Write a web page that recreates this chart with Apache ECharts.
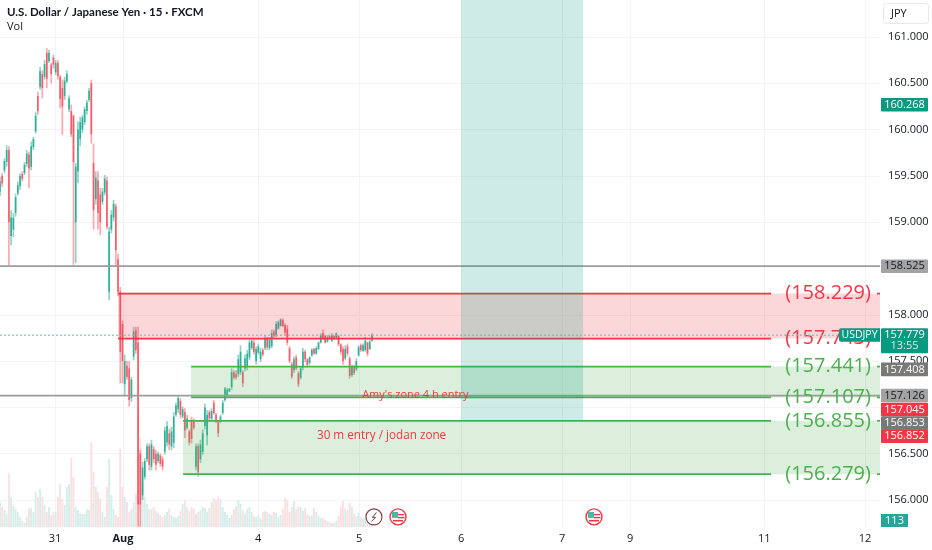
<!DOCTYPE html>
<html><head><meta charset="utf-8">
<style>html,body{margin:0;padding:0;background:#fff}#c{width:932px;height:550px}</style>
<script src="https://cdn.jsdelivr.net/npm/echarts@6/dist/echarts.min.js"></script>
</head><body><div id="c"></div>
<script>
// one row per bar: open, high, low, close
const candles = [
[159.33,159.49,159.28,159.44],[159.50,159.53,159.38,159.42],[159.56,159.69,159.53,159.66],[159.65,159.83,159.60,159.78],
[159.78,159.82,158.52,159.00],[158.85,159.13,158.75,159.05],[158.92,159.10,158.84,159.05],[159.10,159.31,159.06,159.27],
[159.31,159.44,159.29,159.40],[159.39,159.53,159.35,159.50],[159.52,159.55,159.44,159.47],[159.53,159.65,159.51,159.62],
[159.63,159.78,159.60,159.74],[159.73,159.76,159.37,159.58],[159.60,159.87,159.56,159.82],[159.81,159.92,159.78,159.90],
[159.98,160.19,159.96,160.15],[160.36,160.41,160.16,160.20],[160.46,160.68,160.43,160.63],[160.60,160.64,160.34,160.45],
[160.57,160.75,160.54,160.71],[160.83,160.88,160.45,160.55],[160.74,160.86,160.72,160.83],[160.70,160.72,160.50,160.60],
[160.78,160.81,160.66,160.70],[160.62,160.75,160.59,160.72],[160.72,160.75,160.54,160.58],[160.57,160.59,160.23,160.33],
[160.45,160.54,159.94,160.25],[160.36,160.57,160.32,160.53],[160.52,160.64,160.50,160.60],[160.22,160.37,160.19,160.34],
[160.20,160.27,159.92,159.95],[160.15,160.16,158.54,159.65],[159.00,159.64,158.56,159.60],[159.55,160.09,159.42,160.00],
[159.90,160.14,159.82,160.08],[160.00,160.16,159.96,160.13],[160.08,160.25,160.05,160.22],[160.20,160.32,160.16,160.29],
[160.32,160.45,160.30,160.42],[160.50,160.54,159.85,159.95],[159.64,159.85,158.92,159.13],[159.25,159.55,159.19,159.48],
[159.45,159.55,158.92,159.10],[159.30,159.37,158.86,159.00],[159.22,159.37,159.19,159.33],
[159.32,159.51,159.29,159.47],[159.45,159.49,158.92,158.95],[158.25,158.95,158.16,158.90],
[158.92,159.13,158.88,159.08],[159.05,159.24,159.01,159.20],[159.17,159.20,158.52,158.70],[158.60,158.66,158.20,158.25],
[158.25,158.30,157.26,157.60],
[157.90,157.94,157.26,157.50],[157.25,157.57,157.12,157.50],[157.45,157.50,157.30,157.33],[157.42,157.50,157.01,157.08],
[157.10,157.33,157.06,157.30],[157.55,157.87,157.51,157.82],[157.83,157.87,157.58,157.62],[157.70,157.87,155.71,155.95],
[156.50,156.54,155.71,155.95],[156.05,156.41,156.00,156.35],[156.25,156.45,156.22,156.42],[156.44,156.61,156.41,156.58],
[156.58,156.61,156.32,156.38],[156.36,156.65,156.32,156.60],[156.55,156.58,156.40,156.44],[156.50,156.54,156.32,156.38],
[156.42,156.52,156.40,156.50],[156.48,156.50,156.36,156.39],[156.44,156.47,156.32,156.36],[156.52,156.79,156.49,156.75],
[156.62,156.85,156.58,156.80],[156.72,156.77,156.54,156.60],[156.58,156.79,156.54,156.74],[156.62,156.95,156.56,156.90],
[156.92,157.05,156.90,157.02],[156.98,157.13,156.94,157.10],[157.07,157.10,156.88,156.92],[156.90,157.01,156.88,156.98],
[156.95,156.99,156.67,156.75],[156.78,156.92,156.76,156.88],[156.74,156.76,156.59,156.62],[156.86,156.90,156.61,156.66],
[156.85,156.88,156.76,156.78],[156.36,156.61,156.32,156.58],[156.58,156.61,156.25,156.30],[156.44,156.65,156.40,156.60],
[156.52,156.76,156.49,156.72],[156.80,157.04,156.76,157.00],[156.70,156.97,156.59,156.92],[156.95,156.97,156.85,156.88],
[156.88,156.99,156.86,156.96],[157.05,157.08,156.92,156.94],[156.92,156.94,156.83,156.85],[156.84,156.86,156.68,156.72],
[156.85,156.92,156.83,156.90],[156.94,157.08,156.92,157.05],[157.08,157.22,157.06,157.20],
[157.12,157.21,157.10,157.19],[157.17,157.21,157.17,157.20],[157.22,157.42,157.19,157.38],[157.38,157.40,157.30,157.32],
[157.36,157.40,157.30,157.32],[157.36,157.57,157.33,157.52],[157.38,157.67,157.35,157.60],[157.38,157.40,157.22,157.26],
[157.42,157.57,157.39,157.53],[157.44,157.62,157.40,157.58],[157.54,157.73,157.51,157.70],[157.64,157.74,157.62,157.72],
[157.70,157.73,157.57,157.60],[157.50,157.66,157.46,157.63],[157.59,157.69,157.57,157.66],[157.52,157.64,157.49,157.60],
[157.62,157.64,157.55,157.57],[157.64,157.78,157.62,157.75],[157.74,157.76,157.62,157.65],[157.64,157.76,157.62,157.73],
[157.66,157.84,157.64,157.80],[157.82,157.84,157.75,157.77],[157.78,157.93,157.76,157.90],[157.85,157.94,157.84,157.92],
[157.88,157.96,157.87,157.95],[157.94,157.96,157.87,157.88],[157.89,157.91,157.78,157.81],[157.85,157.89,157.67,157.70],
[157.64,157.66,157.48,157.50],[157.47,157.49,157.31,157.33],[157.40,157.55,157.37,157.52],[157.54,157.57,157.40,157.42],
[157.37,157.39,157.22,157.25],[157.32,157.44,157.30,157.42],[157.43,157.64,157.40,157.60],[157.60,157.62,157.49,157.52],
[157.52,157.53,157.44,157.46],[157.48,157.55,157.46,157.54],[157.56,157.64,157.55,157.62],[157.63,157.64,157.57,157.58],
[157.58,157.66,157.57,157.64],[157.63,157.71,157.62,157.70],[157.70,157.80,157.69,157.78],[157.80,157.84,157.73,157.75],
[157.77,157.78,157.69,157.70],[157.71,157.78,157.70,157.76],[157.77,157.78,157.73,157.74],[157.72,157.80,157.71,157.78],
[157.77,157.78,157.73,157.74],[157.74,157.81,157.73,157.80],[157.77,157.78,157.66,157.68],[157.68,157.69,157.57,157.60],
[157.63,157.66,157.46,157.50],[157.53,157.67,157.51,157.63],[157.66,157.69,157.55,157.58],[157.53,157.55,157.31,157.34],
[157.35,157.46,157.33,157.44],[157.44,157.46,157.35,157.37],[157.41,157.53,157.39,157.50],[157.56,157.67,157.55,157.65],
[157.67,157.69,157.60,157.62],[157.61,157.69,157.60,157.67],[157.62,157.76,157.60,157.72],[157.70,157.71,157.55,157.58],
[157.63,157.73,157.62,157.71],[157.72,157.80,157.71,157.779]
];
const volumes = [250,200,170,130,540,300,210,180,150,100,60,40,100,180,190,150,350,300,380,300,220,150,200,120,150,150,300,430,280,220,400,430,690,500,200,170,140,130,130,180,170,850,550,400,350,280,150,100,400,680,320,180,120,100,
780,400,300,250,150,180,250,330,1130,900,450,300,230,180,180,200,160,140,120,100,120,150,180,120,100,90,110,160,230,270,200,160,200,180,130,150,170,200,190,150,190,250,290,270,300,280,200,150,120,
90,120,180,210,270,230,160,130,180,200,150,110,100,120,90,150,160,150,130,120,150,140,100,120,180,290,270,150,200,260,180,210,200,160,190,130,110,120,190,150,110,90,90,70,60,50,40,40,60,110,200,260,190,170,240,200,130,110,140,100,90,100,70,90,113];
const timeTicks = [24.7,55.2,115.9,161.2,207,252.4,282.9,343.1,388.4];
const timeLabels = ['31','Aug','4','5','6','7','9','11','12'];
const priceTicks = [156,156.5,157,157.5,158,159,159.5,160,160.5,161];
const xMax = 395.1;
// zones under the long-position box: bar start, bar end, low price, high price
const zoneStart = [53,85.8,82.2];
const zoneEnd   = [xMax,xMax,xMax];
const zoneLow   = [157.743,157.107,156.279];
const zoneHigh  = [158.229,157.441,156.855];
const zoneFill  = ['rgba(242,54,69,0.2)','rgba(76,175,80,0.2)','rgba(76,175,80,0.2)'];
// long-position box
const boxStart = 207, boxEnd = 261.8, boxLow = 156.853, boxHigh = 161.4;
// levels with big price text
const levelPrice = [158.229,157.743,157.441,157.107,156.855,156.279];
const levelStart = [53,53,85.8,85.8,82.2,82.2];
const levelText  = ['(158.229)','(157.743)','(157.441)','(157.107)','(156.855)','(156.279)'];
const levelColor = ['#f23645','#f23645','#4caf50','#4caf50','#4caf50','#4caf50'];
const levelEnd = 346.2, levelTextBar = 371.8;
// grey horizontal lines
const greyLines = [158.525,157.126];
const lastPrice = 157.779;
// price tags on the scale: level shown at, text, background, text colour
const tagLevel = [160.268,158.525,157.41,157.128,156.977,156.832,156.69];
const tagText = ['160.268','158.525','157.408','157.126','157.045','156.853','156.852'];
const tagBg = ['#089981','#a3a3a3','#7b7977','#a3a3a3','#f23645','#7b7977','#f23645'];
const tagFg = ['#fff','#131722','#fff','#131722','#fff','#fff','#fff'];
// notes
const noteBar = [162.6,142.3], notePrice = [157.13,156.69];
const noteText = ["Amy's zone 4 h entry",'30 m entry / jodan zone'];
const noteSize = [11,11.7];
// event icons
const iconBar = [167.9,178.7,266.7], iconKind = ['bolt','flag','flag'], iconPrice = 155.817;

const FONT = '"Open Sans","Liberation Sans",sans-serif';
const UP = '#22ab94', DOWN = '#f7525f';
const volData = volumes.map((v,i)=>{
  const c = candles[i] || [0,0,0,0];
  return {value:[i,v],itemStyle:{color:c[3]>=c[0]?'#d5eeea':'#fddfe1'}};
});
const chart = echarts.init(document.getElementById('c'),null,{renderer:'canvas'});

function renderCandle(p,api){
  const c=candles[p.dataIndex], i=p.dataIndex, col=c[3]>=c[0]?UP:DOWN;
  const h=api.coord([i,c[1]]), l=api.coord([i,c[2]]), o=api.coord([i,c[0]]), k=api.coord([i,c[3]]);
  const top=Math.min(o[1],k[1]), bot=Math.max(o[1],k[1]);
  return {type:'group',children:[
    {type:'line',shape:{x1:h[0],y1:h[1],x2:l[0],y2:l[1]},style:{stroke:col,lineWidth:1.7,opacity:.5}},
    {type:'rect',shape:{x:h[0]-.8,y:top,width:1.6,height:Math.max(bot-top,1)},style:{fill:col,opacity:.9}}
  ]};
}
function renderZone(p,api){
  const i=p.dataIndex;
  const a=api.coord([zoneStart[i],zoneHigh[i]]), b=api.coord([zoneEnd[i],zoneLow[i]]);
  return {type:'rect',shape:{x:a[0],y:a[1],width:b[0]-a[0],height:b[1]-a[1]},style:{fill:zoneFill[i]},silent:true};
}
function renderBox(p,api){
  const a=api.coord([boxStart,boxHigh]), b=api.coord([boxEnd,boxLow]);
  return {type:'rect',shape:{x:a[0],y:a[1],width:b[0]-a[0],height:b[1]-a[1]},style:{fill:'rgba(8,153,129,0.2)'}};
}
function renderLevel(p,api){
  const i=p.dataIndex, c=levelColor[i];
  const a=api.coord([levelStart[i],levelPrice[i]]), e=api.coord([levelEnd,levelPrice[i]]), t=api.coord([levelTextBar,levelPrice[i]]);
  const r=api.coord([xMax,levelPrice[i]]);
  const st={stroke:c,lineWidth:1.7};
  return {type:'group',children:[
    {type:'line',shape:{x1:a[0],y1:a[1],x2:e[0],y2:e[1]},style:st},
    {type:'line',shape:{x1:r[0]-3,y1:a[1],x2:r[0],y2:a[1]},style:st},
    {type:'text',style:{x:t[0],y:t[1],text:levelText[i],fill:c,font:'20px '+FONT,align:'center',verticalAlign:'middle'}}
  ]};
}
function renderGrey(p,api){
  const a=api.coord([0,greyLines[p.dataIndex]]), b=api.coord([xMax,greyLines[p.dataIndex]]);
  return {type:'line',shape:{x1:a[0],y1:a[1],x2:b[0],y2:b[1]},style:{stroke:'#9c9c9c',lineWidth:1.8}};
}
function renderTag(p,api){
  const i=p.dataIndex, a=api.coord([xMax,tagLevel[i]]);
  return {type:'group',children:[
    {type:'rect',shape:{x:a[0]+1,y:a[1]-6.8,width:47,height:13.6,r:1},style:{fill:tagBg[i]}},
    {type:'text',style:{x:a[0]+24.5,y:a[1],text:tagText[i],fill:tagFg[i],font:'11px '+FONT,align:'center',verticalAlign:'middle'}}
  ]};
}
function renderLast(p,api){
  const a=api.coord([0,lastPrice]), b=api.coord([xMax,lastPrice]);
  const tagY=a[1];
  return {type:'group',children:[
    {type:'line',shape:{x1:a[0],y1:a[1],x2:b[0],y2:b[1]},style:{stroke:'#7fb8ac',lineWidth:1.5,lineDash:[2,2],opacity:.75}},
    {type:'rect',shape:{x:b[0]-41,y:tagY-7,width:41,height:13.5,r:[2,0,0,2]},style:{fill:'#089981'}},
    {type:'text',style:{x:b[0]-20.5,y:tagY,text:'USDJPY',fill:'#fff',font:'10.5px '+FONT,align:'center',verticalAlign:'middle'}},
    {type:'rect',shape:{x:b[0]+1,y:tagY-7,width:47,height:25,r:1},style:{fill:'#089981'}},
    {type:'text',style:{x:b[0]+24.5,y:tagY,text:'157.779',fill:'#fff',font:'11px '+FONT,align:'center',verticalAlign:'middle'}},
    {type:'text',style:{x:b[0]+24.5,y:tagY+11,text:'13:55',fill:'#cdeee8',font:'11px '+FONT,align:'center',verticalAlign:'middle'}}
  ]};
}
function renderNote(p,api){
  const i=p.dataIndex, a=api.coord([noteBar[i],notePrice[i]]);
  return {type:'text',style:{x:a[0],y:a[1],text:noteText[i],fill:'#f23645',font:noteSize[i]+'px '+FONT,align:'left',verticalAlign:'middle'}};
}
function renderIcon(p,api){
  const i=p.dataIndex, a=api.coord([iconBar[i],iconPrice]), x=a[0], y=a[1];
  if(iconKind[i]==='bolt'){
    return {type:'group',children:[
      {type:'circle',shape:{cx:x,cy:y,r:8},style:{fill:'#fff',stroke:'#7d3b3b',lineWidth:1.1}},
      {type:'polyline',shape:{points:[[x+2.5,y-4.5],[x-1.5,y+.5],[x+1.5,y+.5],[x-2.5,y+4.5]]},style:{fill:'none',stroke:'#7d3b3b',lineWidth:1}}
    ]};
  }
  return {type:'group',children:[
    {type:'circle',shape:{cx:x,cy:y,r:8},style:{fill:'#fff',stroke:'#f23645',lineWidth:1.4}},
    {type:'rect',shape:{x:x-6,y:y-5,width:6,height:6},style:{fill:'#4db6a4'}},
    {type:'rect',shape:{x:x,y:y-3,width:6,height:1.4},style:{fill:'#f23645'}},
    {type:'rect',shape:{x:x,y:y,width:6.5,height:1.4},style:{fill:'#f23645'}},
    {type:'rect',shape:{x:x-5,y:y+3,width:10,height:1.6},style:{fill:'#f23645'}}
  ]};
}

chart.setOption({
  animation:false,
  backgroundColor:'#fff',
  title:{text:'U.S. Dollar / Japanese Yen · 15 · FXCM',subtext:'Vol',left:7,top:6,itemGap:3,padding:0,
    textStyle:{fontFamily:'Lato,Roboto,sans-serif',fontSize:11.5,fontWeight:700,color:'#131722'},
    subtextStyle:{fontFamily:FONT,fontSize:11,color:'#131722'}},
  grid:{left:0,right:52,top:0,bottom:23},
  xAxis:{type:'value',min:0,max:xMax,
    axisLine:{show:false},axisTick:{show:false,customValues:timeTicks},
    splitLine:{show:true,lineStyle:{color:'#f3f4f6',width:1}},
    axisLabel:{customValues:timeTicks,margin:6,fontFamily:FONT,fontSize:11,color:'#131722',
      formatter:v=>{const s=timeLabels[timeTicks.indexOf(v)];return s==='Aug'?'{b|Aug}':s;},
      rich:{b:{fontFamily:FONT,fontSize:11,fontWeight:700,color:'#131722'}}}},
  yAxis:[
    {type:'value',position:'right',min:155.708,max:161.4,
      axisLine:{show:false},axisTick:{show:false,customValues:priceTicks},
      splitLine:{show:true,lineStyle:{color:'#f3f4f6',width:1}},
      axisLabel:{customValues:priceTicks,margin:8,fontFamily:FONT,fontSize:11,color:'#131722',formatter:v=>v.toFixed(3)}},
    {type:'value',position:'right',min:0,max:5270,show:false,splitLine:{show:false}}
  ],
  graphic:[
    {type:'rect',left:883,top:3,shape:{width:45,height:20,r:3},style:{fill:'#fff',stroke:'#e6e8ee',lineWidth:1},z:20},
    {type:'text',left:891,top:8,style:{text:'JPY',fill:'#131722',font:'11px '+FONT},z:21}
  ],
  series:[
    {type:'bar',name:'Vol',xAxisIndex:0,yAxisIndex:1,data:volData,barWidth:1.9,z:1,silent:true},
    {type:'custom',name:'USDJPY',renderItem:renderCandle,data:candles.map((c,i)=>[i,c[2],c[1]]),encode:{x:0,y:[1,2]},z:2,silent:true,clip:true},
    {type:'custom',name:'zones',renderItem:renderZone,data:zoneStart.map((v,i)=>[v,zoneLow[i]]),z:3,silent:true,clip:false},
    {type:'custom',name:'grey',renderItem:renderGrey,data:greyLines.map(v=>[0,v]),z:4,silent:true},
    {type:'custom',name:'levels',renderItem:renderLevel,data:levelPrice.map((v,i)=>[levelStart[i],v]),z:5,silent:true},
    {type:'custom',name:'box',renderItem:renderBox,data:[[boxStart,boxLow]],z:6,silent:true},
    {type:'custom',name:'notes',renderItem:renderNote,data:noteBar.map((v,i)=>[v,notePrice[i]]),z:7,silent:true},
    {type:'custom',name:'icons',renderItem:renderIcon,data:iconBar.map(v=>[v,iconPrice]),z:7,silent:true},
    {type:'custom',name:'last',renderItem:renderLast,data:[[0,lastPrice]],z:8,silent:true},
    {type:'custom',name:'tags',renderItem:renderTag,data:tagLevel.map(v=>[xMax,v]),z:9,silent:true},
    {type:'custom',name:'volTag',silent:true,z:9,data:[[xMax,113]],yAxisIndex:1,renderItem:(p,api)=>{
      const a=api.coord([xMax,65]);
      return {type:'group',children:[
        {type:'rect',shape:{x:a[0]+1,y:a[1]-6.5,width:27,height:13},style:{fill:'#26a69a'}},
        {type:'text',style:{x:a[0]+14.5,y:a[1],text:'113',fill:'#fff',font:'11px '+FONT,align:'center',verticalAlign:'middle'}}
      ]};}}
  ]
});
</script></body></html>
